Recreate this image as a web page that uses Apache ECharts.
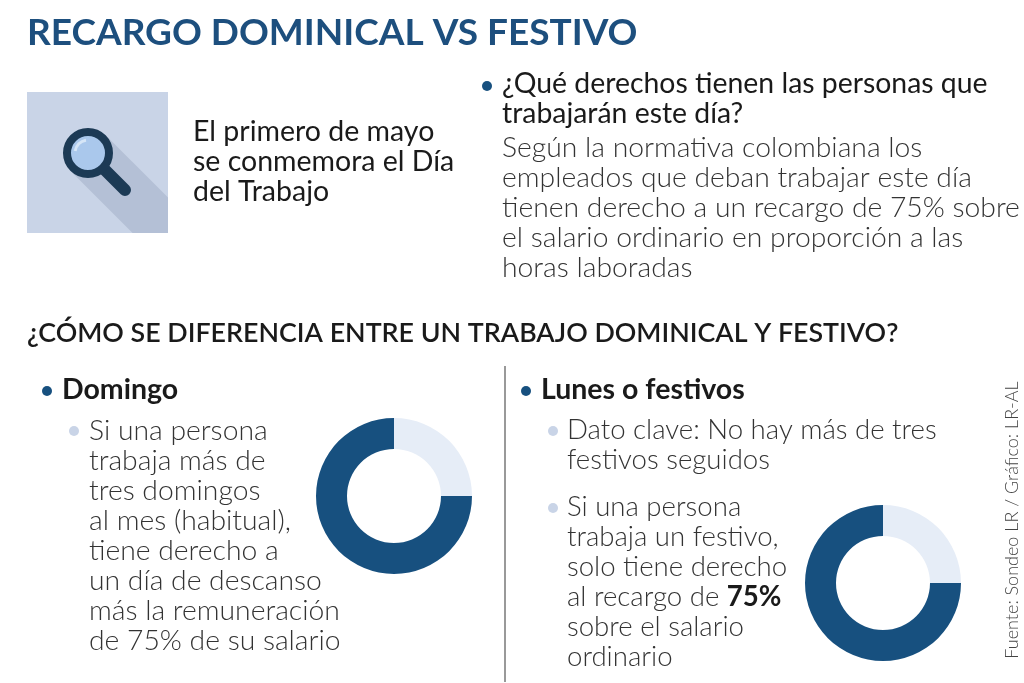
<!DOCTYPE html>
<html>
<head>
<meta charset="utf-8">
<script src="https://cdn.jsdelivr.net/npm/echarts@6/dist/echarts.min.js"></script>
<style>
  html, body { margin: 0; padding: 0; background: #fff; }
  #chart { width: 1024px; height: 683px; }
</style>
</head>
<body>
<div id="chart"></div>
<script>
// donut values: [rest, recargo]
const recargoLabels = ["Resto", "Recargo 75%"];
const domingoValues = [25, 75];
const festivoValues = [25, 75];

const titleText = "RECARGO DOMINICAL VS FESTIVO";
const introLines = ["El primero de mayo", "se conmemora el Día", "del Trabajo"];
const questionLines = ["¿Qué derechos tienen las personas que", "trabajarán este día?"];
const answerLines = [
  "Según la normativa colombiana los",
  "empleados que deban trabajar este día",
  "tienen derecho a un recargo de 75% sobre",
  "el salario ordinario en proporción a las",
  "horas laboradas"
];
const sectionText = "¿CÓMO SE DIFERENCIA ENTRE UN TRABAJO DOMINICAL Y FESTIVO?";
const domingoLines = [
  "Si una persona", "trabaja más de", "tres domingos", "al mes (habitual),",
  "tiene derecho a", "un día de descanso", "más la remuneración", "de 75% de su salario"
];
const festivoKey = ["Dato clave: No hay más de tres", "festivos seguidos"];
const festivoLines = [
  "Si una persona", "trabaja un festivo,", "solo tiene derecho",
  "al recargo de {b|75%}", "sobre el salario", "ordinario"
];
const sourceText = "Fuente: Sondeo LR / Gráfico: LR-AL";

const DARK = "#17507f";
const LIGHT = "#e6edf7";
const FONT = "Lato";
const LH = 30;

const chart = echarts.init(document.getElementById("chart"));

function block(x, yCenterFirst, lines, opts) {
  return {
    type: "text",
    x: x,
    y: yCenterFirst - LH / 2,
    style: Object.assign({
      text: lines.join("\n"),
      fontFamily: FONT,
      fontSize: 28,
      fontWeight: 300,
      lineHeight: LH,
      fill: "#333",
      verticalAlign: "top"
    }, opts || {})
  };
}

function dot(x, y, r, color) {
  return { type: "circle", shape: { cx: x, cy: y, r: r }, style: { fill: color } };
}

function donut(center, values) {
  return {
    type: "pie",
    center: center,
    radius: [47, 78],
    startAngle: 90,
    clockwise: true,
    silent: true,
    label: { show: false },
    labelLine: { show: false },
    data: values.map((v, i) => ({
      name: recargoLabels[i],
      value: v,
      itemStyle: { color: i === 0 ? LIGHT : DARK }
    }))
  };
}

const option = {
  backgroundColor: "#fff",
  animation: false,
  graphic: [
    // title
    {
      type: "text", x: 27, y: 33,
      style: { text: titleText, fontFamily: FONT, fontSize: 37, fontWeight: "bold",
               fill: "#1d4f7e", verticalAlign: "middle" }
    },
    // icon box
    { type: "rect", shape: { x: 27, y: 92, width: 141, height: 141 }, style: { fill: "#c9d4e7" } },
    { type: "polygon", shape: { points: [[105.7, 135.3], [168, 197.6], [168, 233], [132.6, 233], [70.3, 170.7]] },
      style: { fill: "#b4c0d6" } },
    { type: "line", shape: { x1: 104, y1: 169, x2: 125, y2: 190 },
      style: { stroke: "#1c3a55", lineWidth: 12, lineCap: "round" } },
    { type: "circle", shape: { cx: 88, cy: 153, r: 21 },
      style: { fill: "#aac8ec", stroke: "#1c3a55", lineWidth: 8 } },
    { type: "arc", shape: { cx: 88, cy: 153, r: 13, startAngle: Math.PI * 1.05, endAngle: Math.PI * 1.45 },
      style: { stroke: "#d6e6f7", lineWidth: 3, fill: null } },
    block(193, 132, introLines, { fontSize: 28.5, fontWeight: "normal", fill: "#1a1a1a" }),
    // question
    dot(487, 86, 5, DARK),
    block(502, 84, questionLines, { fontSize: 28.4, fontWeight: "normal", fill: "#1a1a1a" }),
    block(502, 148, answerLines, { fontSize: 28.3 }),
    // section heading
    {
      type: "text", x: 27, y: 333,
      style: { text: sectionText, fontFamily: FONT, fontSize: 26.8, fontWeight: 600,
               fill: "#1a1a1a", verticalAlign: "middle" }
    },
    // divider
    { type: "line", shape: { x1: 505, y1: 366, x2: 505, y2: 682 }, style: { stroke: "#777", lineWidth: 1.5 } },
    // Domingo
    dot(47, 391, 5, DARK),
    block(62, 390, ["Domingo"], { fontSize: 28.5, fontWeight: "bold", fill: "#1a1a1a" }),
    dot(74, 431, 5, "#c9d4e7"),
    block(89, 431, domingoLines, { fontSize: 28.3 }),
    // Lunes o festivos
    dot(526, 391, 5, DARK),
    block(541, 390, ["Lunes o festivos"], { fontSize: 28.5, fontWeight: "bold", fill: "#1a1a1a" }),
    dot(553, 431, 5, "#c9d4e7"),
    block(567, 430, festivoKey, { fontSize: 27.6 }),
    dot(553, 508, 5, "#c9d4e7"),
    block(567, 507, festivoLines, { fontSize: 27.6, rich: {
      b: { fontFamily: FONT, fontSize: 27.6, fontWeight: "bold", fill: "#1a1a1a", lineHeight: LH }
    } }),
    // source
    {
      type: "text", x: 1012, y: 520, rotation: Math.PI / 2,
      style: { text: sourceText, fontFamily: FONT, fontSize: 18, fontWeight: 300,
               fill: "#444", align: "center", verticalAlign: "middle" }
    }
  ],
  series: [
    donut([394, 496], domingoValues),
    donut([883, 583], festivoValues)
  ]
};

chart.setOption(option);
</script>
</body>
</html>
